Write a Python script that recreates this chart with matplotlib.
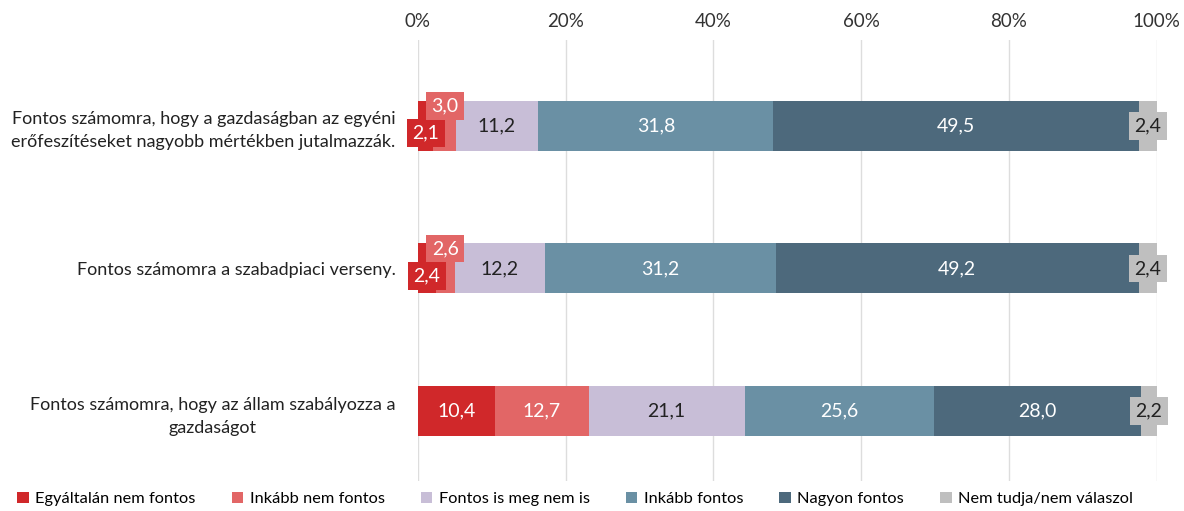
import matplotlib.pyplot as plt
from matplotlib.patches import Patch
import numpy as np

plt.rcParams['font.family'] = ['Lato', 'DejaVu Sans']

# Data
categories = [
    "Fontos számomra, hogy a gazdaságban az egyéni\nerőfeszítéseket nagyobb mértékben jutalmazzák.",
    "Fontos számomra a szabadpiaci verseny.",
    "Fontos számomra, hogy az állam szabályozza a\ngazdaságot",
]
series_names = ["Egyáltalán nem fontos", "Inkább nem fontos", "Fontos is meg nem is",
                "Inkább fontos", "Nagyon fontos", "Nem tudja/nem válaszol"]
values = np.array([
    [2.1, 3.0, 11.2, 31.8, 49.5, 2.4],
    [2.4, 2.6, 12.2, 31.2, 49.2, 2.4],
    [10.4, 12.7, 21.1, 25.6, 28.0, 2.2],
])
colors = ["#D0282A", "#E26666", "#C8BED7", "#6A90A4", "#4D697C", "#BFBFBF"]
text_colors = ["white", "white", "#222222", "white", "white", "#222222"]

fig = plt.figure(figsize=(11.84, 5.11), dpi=100)
ax = fig.add_axes([0.353, 0.058, 0.624, 0.864])

y = np.arange(len(categories))
left = np.zeros(len(categories))
bar_h = 0.35
for j, name in enumerate(series_names):
    ax.barh(y, values[:, j], left=left, height=bar_h, color=colors[j], zorder=2)
    for i in range(len(categories)):
        v = values[i, j]
        cx = left[i] + v / 2
        cy = y[i]
        # small first two segments: stagger labels down / up
        if j < 2 and v < 5:
            cy = y[i] + (0.05 if j == 0 else -0.14)
        ax.text(cx, cy, f"{v:.1f}".replace(".", ","), ha="center", va="center",
                fontsize=14, color=text_colors[j], zorder=3,
                bbox=dict(boxstyle="square,pad=0.28", facecolor=colors[j], edgecolor="none"))
    left += values[:, j]

ax.set_xlim(0, 100)
ax.set_ylim(2.49, -0.6)
ax.xaxis.tick_top()
ax.set_xticks(np.arange(0, 101, 20))
ax.set_xticklabels([f"{t}%" for t in range(0, 101, 20)], fontsize=13.5, color="#333333")
ax.tick_params(axis="x", length=0, pad=7)
ax.set_yticks(y)
ax.set_yticklabels(categories, fontsize=13, color="#222222", multialignment="center",
                   linespacing=1.55)
ax.tick_params(axis="y", length=0, pad=16)
ax.grid(axis="x", color="#DDDDDD", linewidth=1, zorder=0)
for s in ax.spines.values():
    s.set_visible(False)

handles = [Patch(facecolor=c, edgecolor="none") for c in colors]
fig.legend(handles, series_names, loc="lower left", bbox_to_anchor=(0.002, -0.02),
           ncol=6, frameon=False, fontsize=11.8, handlelength=0.7, handleheight=0.7,
           handletextpad=0.4, columnspacing=2.2)

fig.savefig("out.png", dpi=100)
